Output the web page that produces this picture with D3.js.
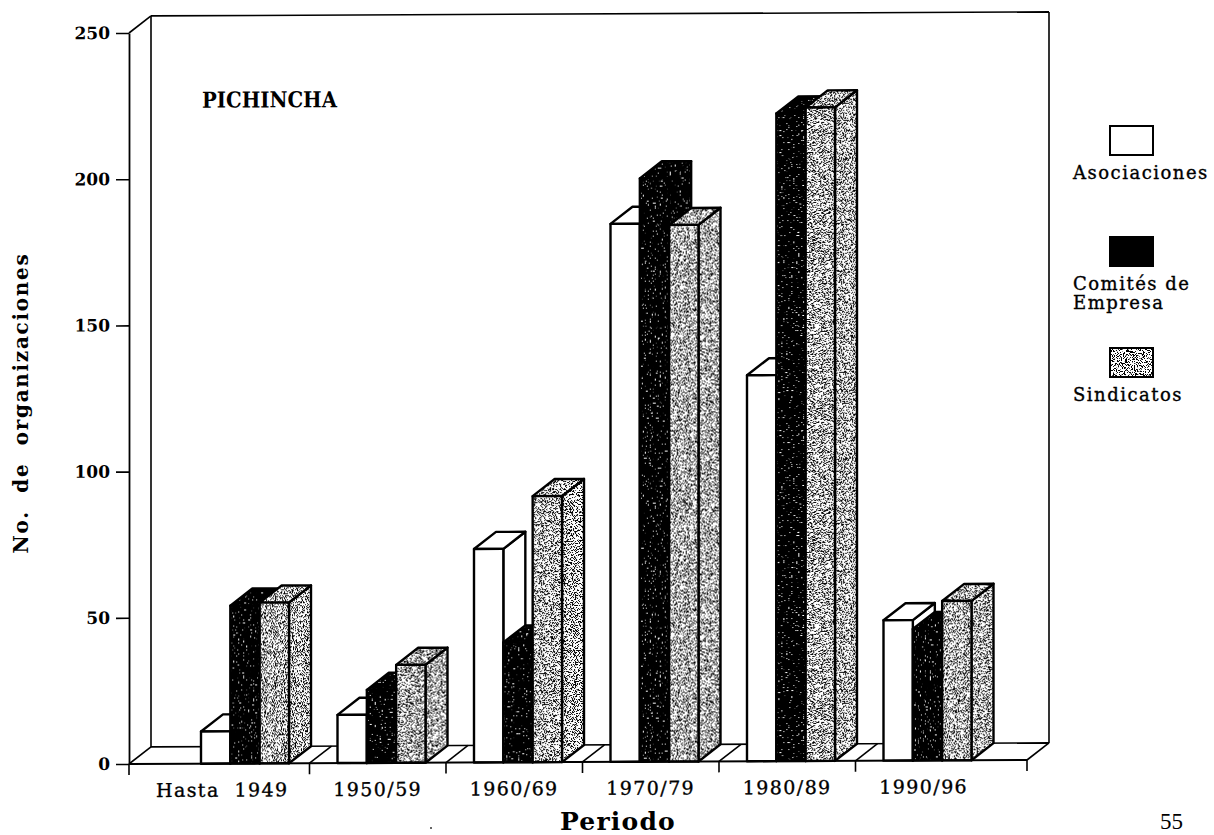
<!DOCTYPE html>
<meta charset="utf-8">
<style>
    html, body { margin: 0; background: #fff; }
    text { fill: #000; font-family: "DejaVu Serif", serif; white-space: pre; }
    .tick-y { font-weight: 700; font-size: 17px; }
    .cat { font-size: 19px; letter-spacing: 1.4px; stroke: #000; stroke-width: 0.35px; }
    .legend { font-size: 18px; letter-spacing: 1.5px; stroke: #000; stroke-width: 0.35px; }
</style>
<body>
<svg id="chart" width="1214" height="835"></svg>
<script src="https://d3js.org/d3.v7.min.js"></script>
<script>
    // values
    var periods = ["Hasta  1949", "1950/59", "1960/69", "1970/79", "1980/89", "1990/96"];
    var asociaciones = [11, 16.5, 73, 184, 132, 48];
    var comites = [54, 25, 41, 199.5, 221.5, 45];
    var sindicatos = [55, 33.5, 91, 183.5, 223.5, 54.5];
    var yTicks = [0, 50, 100, 150, 200, 250];
    var seriesNames = ["Asociaciones", "Comités de\nEmpresa", "Sindicatos"];

    var series = [asociaciones, comites, sindicatos];
    var fills = ["#fff", "url(#dark)", "url(#stipple)"];

    var svg = d3.select("#chart");

    // the scan is a little tilted, so everything in the plot leans with it
    var lean = -0.00445;
    var plot = svg.append("g")
        .attr("transform", "matrix(1," + lean + ",0,1,0," + (-lean * 129) + ")");

    var left = 129, right = 1027, depthX = 22, depthY = -17;

    var y = d3.scaleLinear().domain([0, 250]).range([764, 33]);
    var x = d3.scaleBand().domain(periods).range([173, 992]);
    var xBar = d3.scaleBand().domain(d3.range(3)).range([28, 116]);

    // textures: thresholded noise, white specks on black and black on white
    var defs = svg.append("defs");

    function noise(id, freq, cut, seed) {
        var f = defs.append("filter").attr("id", id)
            .attr("x", 0).attr("y", 0).attr("width", 1).attr("height", 1)
            .attr("color-interpolation-filters", "sRGB");
        f.append("feTurbulence").attr("type", "fractalNoise")
            .attr("baseFrequency", freq).attr("numOctaves", 1).attr("seed", seed);
        f.append("feColorMatrix").attr("type", "matrix")
            .attr("values", "1 0 0 0 0 1 0 0 0 0 1 0 0 0 0 0 0 0 0 1");
        var t = f.append("feComponentTransfer");
        ["feFuncR", "feFuncG", "feFuncB"].forEach(function (c) {
            t.append(c).attr("type", "linear").attr("slope", 30).attr("intercept", -30 * cut);
        });
    }
    noise("noiseDark", 0.6, 0.67, 4);
    noise("noiseStipple", 1.1, 0.44, 9);

    [["dark", "noiseDark"], ["stipple", "noiseStipple"]].forEach(function (p) {
        defs.append("pattern").attr("id", p[0])
            .attr("patternUnits", "userSpaceOnUse")
            .attr("width", 300).attr("height", 300)
            .append("rect").attr("width", 300).attr("height", 300)
            .attr("filter", "url(#" + p[1] + ")");
    });

    function line(g, x1, y1, x2, y2, w) {
        return g.append("line")
            .attr("x1", x1).attr("y1", y1).attr("x2", x2).attr("y2", y2)
            .attr("stroke", "#000").attr("stroke-width", w || 1.6);
    }

    // back wall and floor
    var walls = plot.append("g");
    line(walls, left, y(250), left + depthX, y(250) + depthY);
    line(walls, left + depthX, y(250) + depthY, right + depthX, y(250) + depthY);
    line(walls, left + depthX, y(250) + depthY, left + depthX, y(0) + depthY);
    line(walls, right + depthX, y(250) + depthY, right + depthX, y(0) + depthY);
    line(walls, left + depthX, y(0) + depthY, right + depthX, y(0) + depthY);
    line(walls, left, y(0), left + depthX, y(0) + depthY);
    line(walls, right, y(0), right + depthX, y(0) + depthY);

    // category ticks, the first and last ones sit on the ends of the axis
    var cuts = [left].concat(periods.slice(1).map(function (d) { return x(d); }), [right]);
    cuts.slice(1, -1).forEach(function (c) {
        line(walls, c, y(0), c + depthX, y(0) + depthY);
    });

    // bars, left to right so each one covers the side of the previous one
    var bars = plot.append("g");
    periods.forEach(function (p, i) {
        series.forEach(function (s, k) {
            var x0 = x(p) + xBar(k), x1 = x0 + xBar.bandwidth();
            var top = y(s[i]), base = y(0);
            var g = bars.append("g")
                .attr("fill", fills[k])
                .attr("stroke", "#000")
                .attr("stroke-width", 2.4)
                .attr("stroke-linejoin", "round");
            g.append("polygon").attr("points", [
                [x1, top], [x1 + depthX, top + depthY], [x1 + depthX, base + depthY], [x1, base]
            ].join(" "));
            g.append("polygon").attr("points", [
                [x0, top], [x0 + depthX, top + depthY], [x1 + depthX, top + depthY], [x1, top]
            ].join(" "));
            g.append("rect").attr("x", x0).attr("y", top)
                .attr("width", x1 - x0).attr("height", base - top);
        });
    });

    // axes
    var yAxis = plot.append("g")
        .attr("transform", "translate(" + left + ",0)")
        .call(d3.axisLeft(y).tickValues(yTicks).tickSize(13).tickPadding(6).tickSizeOuter(0));
    yAxis.select(".domain").attr("stroke-width", 1.8);
    yAxis.selectAll("line").attr("stroke-width", 1.6);
    yAxis.selectAll("text").attr("class", "tick-y");
    yAxis.attr("font-family", null).attr("font-size", null);

    line(plot, left, y(0), right, y(0), 2);
    cuts.forEach(function (c) {
        line(plot, c, y(0), c, y(0) + 11, 1.6);
    });

    plot.append("g").selectAll("text")
        .data(periods)
        .enter().append("text")
        .attr("class", "cat")
        .attr("x", function (d, i) {
            return i === 0 ? (cuts[0] + cuts[1]) / 2 + 3 : x(d) + x.bandwidth() / 2;
        })
        .attr("y", y(0) + 33)
        .attr("text-anchor", "middle")
        .text(function (d) { return d; });

    // titles
    plot.append("text")
        .attr("x", 202).attr("y", 108)
        .attr("font-weight", 700).attr("font-size", 22)
        .attr("textLength", 135).attr("lengthAdjust", "spacingAndGlyphs")
        .text("PICHINCHA");

    svg.append("text")
        .attr("x", 618).attr("y", 830)
        .attr("text-anchor", "middle")
        .attr("font-weight", 700).attr("font-size", 25).attr("letter-spacing", 1.2)
        .text("Periodo");

    svg.append("text")
        .attr("transform", "translate(28,403) rotate(-90)")
        .attr("text-anchor", "middle")
        .attr("font-weight", 700).attr("font-size", 20).attr("letter-spacing", 1.7)
        .text("No.  de  organizaciones");

    // legend
    var legendTop = d3.scalePoint().domain(seriesNames).range([126, 348]);
    var legend = svg.append("g").selectAll("g")
        .data(seriesNames)
        .enter().append("g")
        .attr("transform", function (d) { return "translate(1110," + legendTop(d) + ")"; });

    legend.append("rect")
        .attr("width", 43).attr("height", 29)
        .attr("fill", function (d, i) { return i === 1 ? "#000" : fills[i]; })
        .attr("stroke", "#000").attr("stroke-width", 2);

    legend.each(function (d) {
        d3.select(this).selectAll("text")
            .data(d.split("\n"))
            .enter().append("text")
            .attr("class", "legend")
            .attr("x", -37)
            .attr("y", function (t, i) { return 53 + i * 19; })
            .text(function (t) { return t; });
    });

    // page number of the scanned book, plus a speck of dust
    svg.append("text")
        .attr("x", 1160).attr("y", 829)
        .style("font-family", "'Liberation Serif', serif")
        .attr("font-size", 23)
        .text("55");

    svg.append("circle").attr("cx", 431).attr("cy", 828).attr("r", 1).attr("fill", "#333");
</script>
</body>
</html>
